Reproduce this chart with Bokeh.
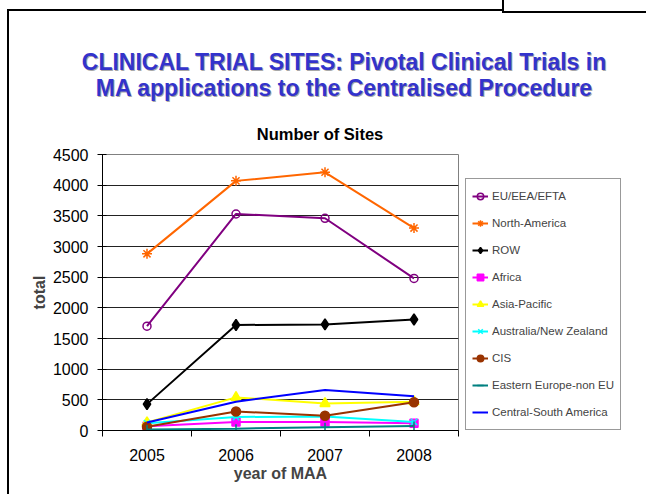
from bokeh.plotting import figure
from bokeh.models import Range1d, FixedTicker, Legend, LegendItem, Div
from bokeh.layouts import column, row
from bokeh.embed import file_html
from bokeh.resources import INLINE
import math

years = ["2005", "2006", "2007", "2008"]
eu = [1700, 3530, 3460, 2480]
north_america = [2880, 4070, 4210, 3300]
row_values = [430, 1720, 1730, 1810]
africa = [70, 140, 140, 120]
asia_pacific = [130, 540, 440, 470]
australia_nz = [120, 220, 230, 140]
cis = [60, 310, 240, 460]
eastern_europe = [15, 30, 55, 75]
central_south_america = [130, 470, 660, 560]
y_ticks = [0, 500, 1000, 1500, 2000, 2500, 3000, 3500, 4000, 4500]

title_line1 = "CLINICAL TRIAL SITES: Pivotal Clinical Trials in"
title_line2 = "MA applications to the Centralised Procedure"
subtitle = "Number of Sites"

FONT = "Liberation Sans"
W, H = 644, 494
HEAD = 145        # page y where the figures start
DIV_H = HEAD - 10  # the Div box gets ~10px of extra spacing below it
PW = 460          # width of the plotting figure
FH = H - HEAD     # figure height

head = Div(width=W, height=DIV_H, text=(
    f'<div style="position:relative;width:{W}px;height:{DIV_H}px;font-family:\'{FONT}\';">'
    '<div style="position:absolute;left:0;top:44px;width:678px;text-align:center;'
    'font-size:23px;font-weight:bold;line-height:26px;color:#3333cc;'
    f'text-shadow:1px 1px 0 #a8a8a8;white-space:nowrap;">{title_line1}<br>{title_line2}</div>'
    '<div style="position:absolute;left:0;top:120px;width:630px;text-align:center;'
    f'font-size:16.5px;font-weight:bold;line-height:18px;color:#000;">{subtitle}</div>'
    '</div>'))

p = figure(width=PW, height=FH, output_backend="svg", toolbar_location=None,
           x_range=Range1d(0.5, len(years) + 0.5), y_range=Range1d(0, 4500),
           min_border_left=102, min_border_right=PW - 458, min_border_top=154 - HEAD,
           min_border_bottom=H - 430)
p.background_fill_color = "white"
p.border_fill_color = None
p.outline_line_color = "#808080"
p.outline_line_width = 1

xs = list(range(1, len(years) + 1))

# axes
p.xaxis.ticker = FixedTicker(ticks=xs, minor_ticks=[i + 0.5 for i in range(0, len(years) + 1)])
p.xaxis.major_label_overrides = {x: y for x, y in zip(xs, years)}
p.xaxis.major_tick_in = 0
p.xaxis.major_tick_out = 0
p.xaxis.minor_tick_in = 0
p.xaxis.minor_tick_out = 6
p.xaxis.minor_tick_line_color = "black"
p.xaxis.axis_line_color = "black"
p.xaxis.major_label_text_font = FONT
p.xaxis.major_label_text_font_size = "16px"
p.xaxis.major_label_text_color = "black"
p.xaxis.major_label_standoff = 12
p.xaxis.axis_label = "year of MAA"
p.xaxis.axis_label_text_font = FONT
p.xaxis.axis_label_text_font_size = "16px"
p.xaxis.axis_label_text_font_style = "bold"
p.xaxis.axis_label_standoff = 1

p.yaxis.ticker = FixedTicker(ticks=y_ticks, minor_ticks=[])
p.yaxis.major_tick_in = 4
p.yaxis.major_tick_out = 5
p.yaxis.major_tick_line_color = "black"
p.yaxis.axis_line_color = "black"
p.yaxis.major_label_text_font = FONT
p.yaxis.major_label_text_font_size = "16px"
p.yaxis.major_label_text_color = "black"
p.yaxis.major_label_standoff = 9
p.yaxis.axis_label = "total"
p.yaxis.axis_label_text_font = FONT
p.yaxis.axis_label_text_font_size = "16px"
p.yaxis.axis_label_text_font_style = "bold"
p.yaxis.axis_label_standoff = 2

p.xgrid.grid_line_color = None
p.ygrid.grid_line_color = "#222222"
p.ygrid.grid_line_width = 1

series = [
    ("EU/EEA/EFTA", eu, "#800080", "circle", False, 8),
    ("North-America", north_america, "#ff6600", "asterisk", False, 10),
    ("ROW", row_values, "#000000", "diamond", True, 11),
    ("Africa", africa, "#ff00ff", "square", True, 8),
    ("Asia-Pacific", asia_pacific, "#ffff00", "triangle", True, 10),
    ("Australia/New Zealand", australia_nz, "#00ffff", "x", False, 9),
    ("CIS", cis, "#993300", "circle", True, 9),
    ("Eastern Europe-non EU", eastern_europe, "#008080", "dash", False, 9),
    ("Central-South America", central_south_america, "#0000ff", None, False, 0),
]

# separate narrow figure that only carries the legend (outside the plot frame);
# its ranges are set so that its copies of the series stay out of view.
# Its frame is aligned with the main plot's frame by the row layout.
lf = figure(width=W - PW, height=FH, output_backend="svg", toolbar_location=None,
            x_range=Range1d(100, 101), y_range=Range1d(100000, 100001),
            x_axis_location=None, y_axis_location=None,
            min_border_left=0, min_border_right=0, min_border_top=0, min_border_bottom=0)
lf.grid.visible = False
lf.outline_line_color = None
lf.background_fill_color = None
lf.border_fill_color = None

items = []
for name, vals, color, marker, filled, size in series:
    p.line(xs, vals, line_color=color, line_width=2)
    rs = [lf.line(xs, vals, line_color=color, line_width=2)]
    if marker is not None:
        kw = dict(marker=marker, size=size, line_color=color, line_width=1.5,
                  fill_color=color if filled else None)
        if marker == "dash":
            kw["angle"] = math.pi / 2
        p.scatter(xs, vals, **kw)
        rs.append(lf.scatter(xs, vals, **kw))
    items.append(LegendItem(label=name, renderers=rs))

legend = Legend(items=items, location=(465 - PW, 0), padding=6, spacing=5,
                glyph_width=16, glyph_height=22, label_height=22, label_standoff=4,
                label_text_font=FONT, label_text_font_size="11.5px",
                border_line_color="#333333", border_line_width=1,
                background_fill_color="white", background_fill_alpha=1, margin=0)
lf.add_layout(legend, "center")

layout = column(head, row(p, lf, spacing=0), spacing=0)
# slide frame decorations drawn as CSS background behind the transparent parts
layout.styles = {
    "background": (
        "linear-gradient(#000,#000) 7px 9px / 2px 900px no-repeat,"
        "linear-gradient(#000,#000) 7px 9px / 496px 2px no-repeat,"
        "linear-gradient(#000,#000) 502px 0px / 2px 13px no-repeat,"
        "linear-gradient(#000,#000) 502px 11px / 300px 2px no-repeat,"
        "#ffffff"
    )
}

open("out.html", "w").write(file_html(layout, INLINE))
